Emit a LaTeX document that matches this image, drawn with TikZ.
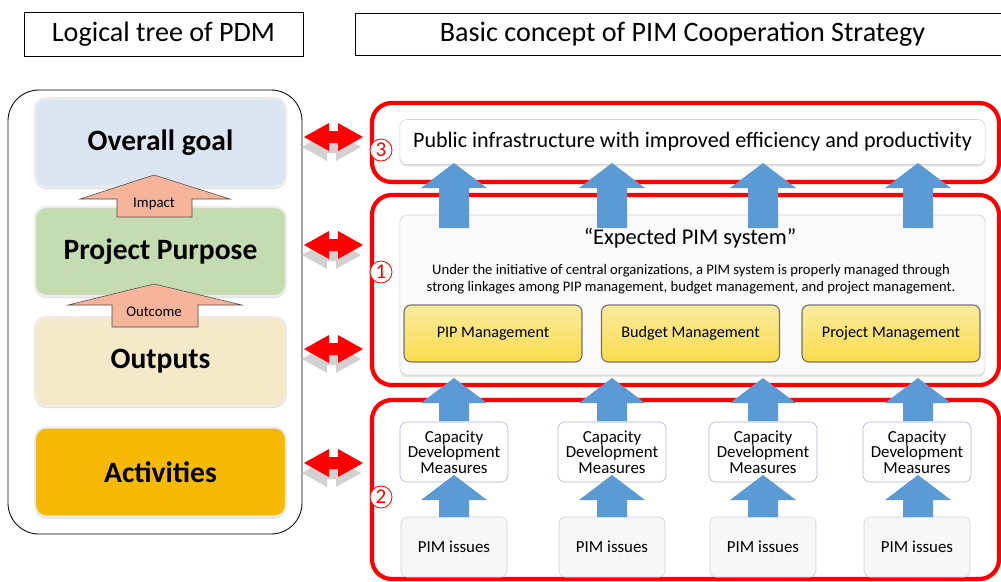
\documentclass[tikz,border=0pt]{standalone}
\usepackage{fontspec}
\setmainfont{Carlito}
\usetikzlibrary{calc}
\usetikzlibrary{shadows}

\definecolor{arrowblue}{HTML}{5B9BD5}
\definecolor{salmon}{HTML}{F6B49A}
\definecolor{goalblue}{HTML}{DCE6F2}
\definecolor{purposegreen}{HTML}{C4DDB0}
\definecolor{outputcream}{HTML}{F5EAC8}
\definecolor{activitygold}{HTML}{F6BA06}
\definecolor{pimyellow}{HTML}{F9DC4C}

\newcommand{\drawBlueArrow}[3]{
   	\fill[arrowblue] (#1-15,#2) -- (#1-15,#3+25) -- (#1-33,#3+25) -- (#1,#3) -- (#1+33,#3+25) -- (#1+15,#3+25) -- (#1+15,#2) -- cycle ;
}
\newcommand{\drawRedArrow}[2]{
   	\fill[#2] (304,#1) -- (329,#1-14) -- (329,#1-6) -- (338,#1-6) -- (338,#1-14) -- (363,#1) -- (338,#1+14) -- (338,#1+6) -- (329,#1+6) -- (329,#1+14) -- cycle ;
}

\tikzset{
  header/.style={draw, thin, minimum height=1.1cm, font=\fontsize{20}{24}\selectfont},
  pdmbox/.style={draw=white!85!gray, line width=1.5pt, rounded corners=8pt, minimum width=6.275cm, minimum height=2.225cm, font=\fontsize{21}{24}\selectfont\bfseries, drop shadow={opacity=0.25, shadow xshift=0pt, shadow yshift=-1.5pt}},
  redframe/.style={draw=red, line width=3pt, rounded corners=14pt},
  innerbox/.style={draw=gray!35, fill=gray!4, rounded corners=5pt, drop shadow={opacity=0.2, shadow xshift=0pt, shadow yshift=-1.5pt}},
  mgmtbox/.style={draw=black!55, thick, top color=pimyellow!55, bottom color=pimyellow, rounded corners=5pt, minimum width=4.45cm, minimum height=1.425cm, font=\fontsize{11.5}{14}\selectfont},
  cdbox/.style={draw=blue!25!gray!50, fill=white, rounded corners=5pt, minimum width=2.7cm, minimum height=1.5cm, align=center, font=\fontsize{12}{13}\selectfont},
  issuebox/.style={draw=gray!35, fill=gray!6, rounded corners=4pt, minimum width=2.65cm, minimum height=1.5cm, font=\fontsize{12}{13}\selectfont},
  numcircle/.style={circle, draw=red, text=red, fill=white, line width=0.6pt, inner sep=0pt, minimum size=0.55cm, font=\fontsize{15}{15}\selectfont},
}

\begin{document}
\begin{tikzpicture}[x=0.025cm, y=-0.025cm]
\useasboundingbox (0,0) rectangle (1001,581);

%Headers
\node[header, minimum width=6.975cm] (hdrPDM) at (163.5,34.5) {Logical tree of PDM};
\node[header, minimum width=16.375cm, minimum height=1.05cm] (hdrPIM) at (682.5,34) {Basic concept of PIM Cooperation Strategy};

%Logical tree of PDM
\draw[semithick, rounded corners=22pt] (8,90) rectangle (302,534);
\node[pdmbox, fill=goalblue] (goal) at (160.5,142.5) {Overall goal};
\node[pdmbox, fill=purposegreen] (purpose) at (160.5,251.5) {Project Purpose};
\node[pdmbox, fill=outputcream] (outputs) at (160.5,361.5) {Outputs};
\node[pdmbox, fill=activitygold] (activities) at (160.5,472) {Activities};

% Impact and outcome arrows
\filldraw[fill=salmon, draw=black!70, thin] (117,217) -- (117,199) -- (80,199) -- (154,175) -- (230,199) -- (192,199) -- (192,217) -- cycle;
\node[font=\fontsize{10.5}{12}\selectfont] (impact) at (154,204) {Impact};
\filldraw[fill=salmon, draw=black!70, thin] (112,327) -- (112,305) -- (68,305) -- (154,284) -- (242,305) -- (198,305) -- (198,327) -- cycle;
\node[font=\fontsize{10.5}{12}\selectfont] (outcome) at (154,312) {Outcome};

% Red double arrows with shadow
	\foreach \y in {137,245,349,463}
	{
		\begin{scope}[shift={(-2,10)}]
		\drawRedArrow{\y}{gray!35}
		\end{scope}
		\drawRedArrow{\y}{red}
	}

%Red frames
\draw[redframe] (372,103) rectangle (999,182);
\draw[redframe] (372,195) rectangle (999,385);
\draw[redframe] (372,400) rectangle (999,579);
\node[numcircle] (num3) at (381,150) {3};
\node[numcircle] (num1) at (381,272) {1};
\node[numcircle] (num2) at (381,497) {2};

%Top box
\node[innerbox, fill=white, minimum width=14.625cm, minimum height=1.125cm, font=\fontsize{15.7}{17}\selectfont] (infra) at (692.5,142) {Public infrastructure with improved efficiency and productivity};

%Expected PIM system
\node[innerbox, minimum width=14.625cm, minimum height=4cm] (pimsystem) at (692.5,295) {};
\node[font=\fontsize{16}{18}\selectfont] (expected) at (690,238) {“Expected PIM system”};
\node[align=center, font=\fontsize{10.4}{12}\selectfont] (initiative) at (691,279) {Under the initiative of central organizations, a PIM system is properly managed through\\strong linkages among PIP management, budget management, and project management.};
\node[mgmtbox] (pipmgmt) at (493,333.5) {PIP Management};
\node[mgmtbox] (budgetmgmt) at (690.5,333.5) {Budget Management};
\node[mgmtbox] (projectmgmt) at (891,333.5) {Project Management};

%Capacity development and PIM issues
	\foreach \x [count=\i] in {454,612,763,917}
	{
		\node[cdbox] (cd\i) at (\x,452) {Capacity\\[-2pt]Development\\[-2pt]Measures};
		\node[issuebox] (issue\i) at (\x,547) {PIM issues};
	}

% Blue arrows
	\foreach \x in {454,612,763,918}
	{
		\drawBlueArrow{\x}{228}{163}
		\drawBlueArrow{\x}{421}{378}
		\drawBlueArrow{\x}{517}{475}
	}
\end{tikzpicture}
\end{document}
